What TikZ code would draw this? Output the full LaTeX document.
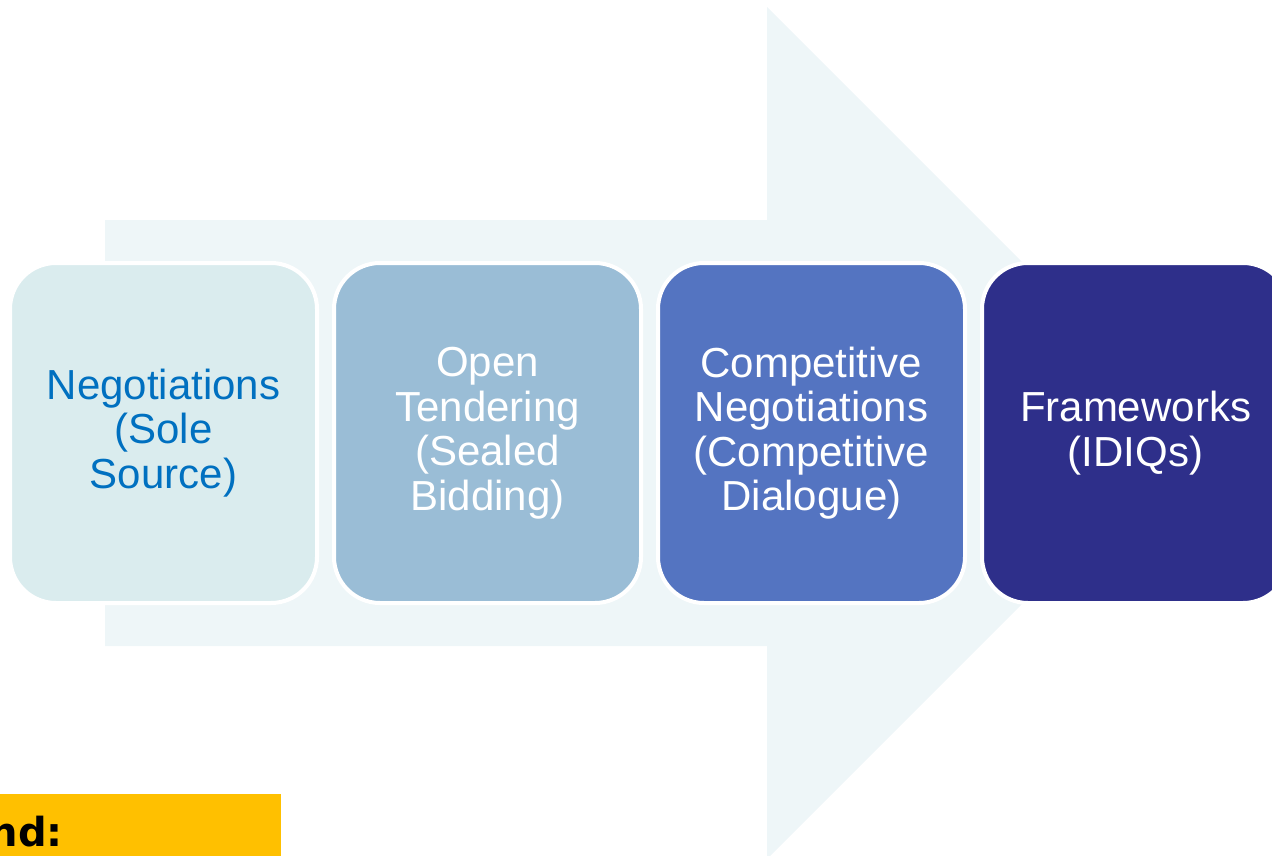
\documentclass[tikz,border=0pt]{standalone}
\usepackage{fontspec}
\setmainfont{Liberation Sans}
\newfontfamily\legendfont{DejaVu Sans}
\definecolor{arrowbg}{HTML}{EEF6F8}
\definecolor{boxA}{HTML}{DAECEE}
\definecolor{boxAtext}{HTML}{0070C0}
\definecolor{boxB}{HTML}{9ABDD6}
\definecolor{boxC}{HTML}{5474C1}
\definecolor{boxD}{HTML}{2E2F8A}
\definecolor{legendyellow}{HTML}{FFC000}
\tikzset{
  stagebox/.style={rectangle, rounded corners=46pt, draw=white, line width=4pt,
    minimum width=307pt, minimum height=340pt, inner sep=0pt, align=center,
    font=\fontsize{42}{44.5}\selectfont, text=white},
}
\begin{document}
\begin{tikzpicture}[x=1pt,y=-1pt]
\useasboundingbox (0,0) rectangle (1272,856);
\clip (0,0) rectangle (1272,856);
% big background arrow
\fill[arrowbg] (105,220) -- (767,220) -- (767,7) -- (1193,433) -- (767,859) -- (767,646) -- (105,646) -- cycle;
% stages
\node[stagebox, fill=boxA, text=boxAtext] (s1) at (163.5,433) {Negotiations\\(Sole\\Source)};
\node[stagebox, fill=boxB] (s2) at (487.5,433) {Open\\Tendering\\(Sealed\\Bidding)};
\node[stagebox, fill=boxC] (s3) at (811.5,433) {Competitive\\Negotiations\\(Competitive\\Dialogue)};
\node[stagebox, fill=boxD] (s4) at (1135.5,433) {Frameworks\\(IDIQs)};
% legend
\fill[legendyellow] (0,794) rectangle (281,856);
\node[anchor=base east, inner sep=0pt, font=\legendfont\bfseries\fontsize{40}{40}\selectfont] (leg) at (63,846) {nd:};
\end{tikzpicture}
\end{document}
